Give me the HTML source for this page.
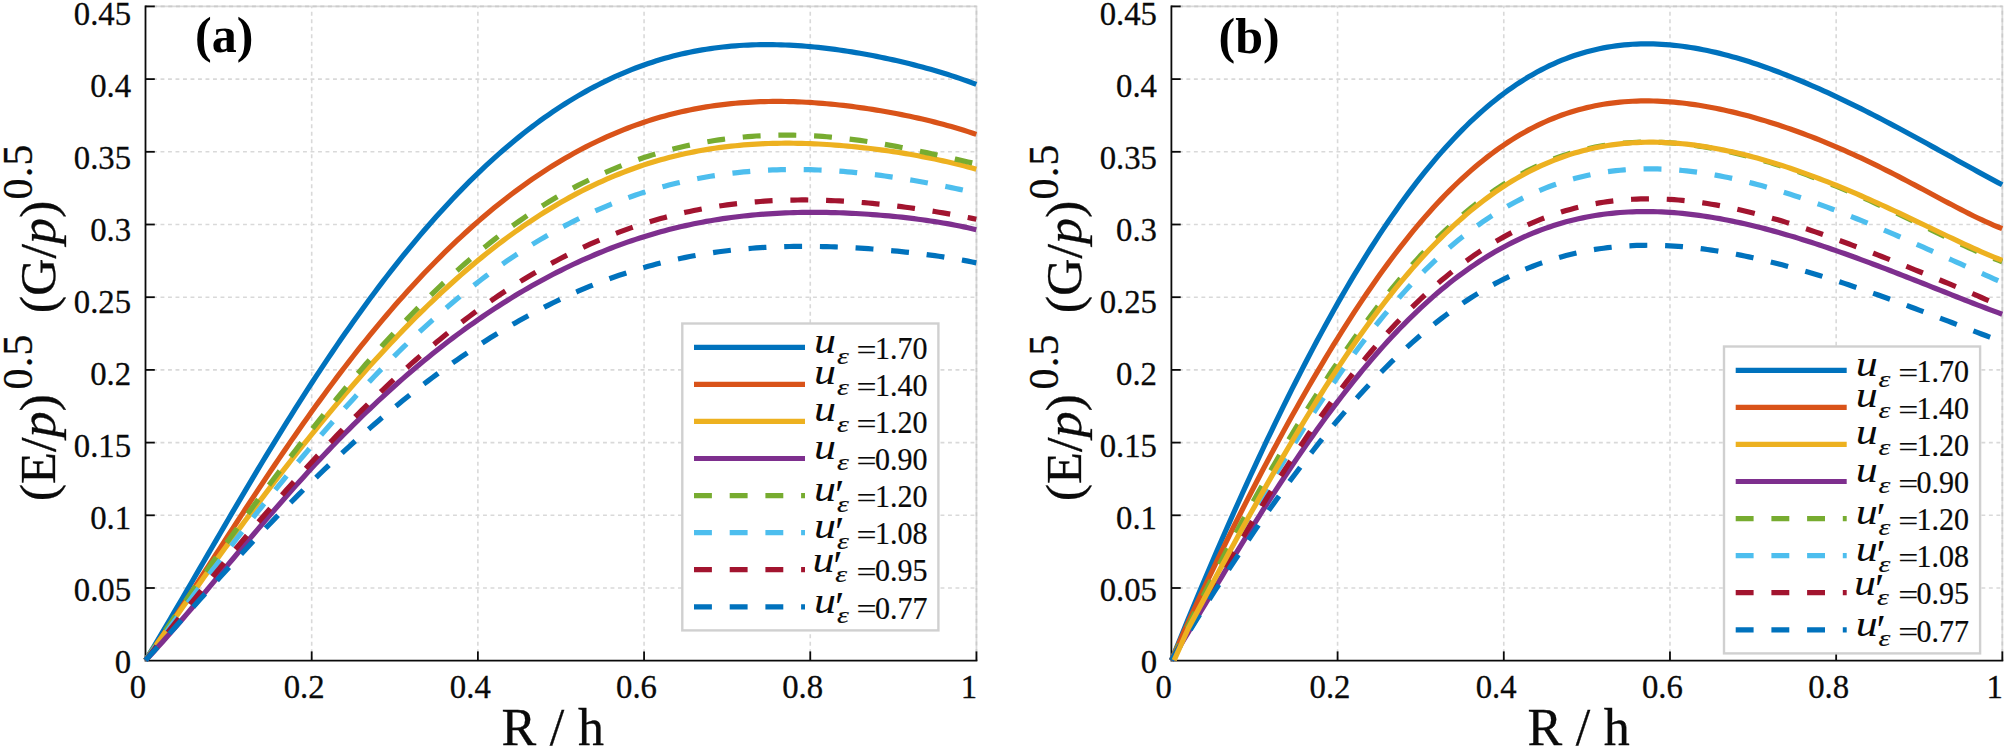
<!DOCTYPE html>
<html lang="en"><head><meta charset="utf-8"><title>Figure</title>
<style>html,body{margin:0;padding:0;background:#fff}svg{display:block}text{font-family:"Liberation Serif",serif;fill:#0a0a0a;stroke:#0a0a0a;stroke-width:0.3px}.tk{font-size:34.2px}.lg{font-size:31.6px;stroke-width:0.2px}.ax{font-size:52px}.sup{font-size:42px}.pl{font-size:50px;font-weight:bold;fill:#000;stroke-width:0}.it{font-style:italic}</style></head><body>
<svg width="2007" height="750" viewBox="0 0 2007 750">
<rect width="2007" height="750" fill="#fff"/>
<g id="panel-a">
<g stroke="#d9d9d9" stroke-width="1.6" stroke-dasharray="3.9 3.6" fill="none">
<path d="M311.69 660.70V6.40"/>
<path d="M477.88 660.70V6.40"/>
<path d="M644.07 660.70V6.40"/>
<path d="M810.26 660.70V6.40"/>
<path d="M145.50 588.00H976.45"/>
<path d="M145.50 515.30H976.45"/>
<path d="M145.50 442.60H976.45"/>
<path d="M145.50 369.90H976.45"/>
<path d="M145.50 297.20H976.45"/>
<path d="M145.50 224.50H976.45"/>
<path d="M145.50 151.80H976.45"/>
<path d="M145.50 79.10H976.45"/>
</g>
<path d="M145.50 6.40H976.45V660.70" stroke="#dadada" stroke-width="1.8" fill="none"/>
<path d="M145.50 6.40H976.45M976.45 660.70V6.40" stroke="#cbcbcb" stroke-width="1.6" stroke-dasharray="4 3.6" fill="none"/>
<g stroke="#0a0a0a" stroke-width="1.8" fill="none">
<path d="M145.50 5.50V660.70H977.35"/>
<path d="M311.69 660.70v-9.3"/>
<path d="M477.88 660.70v-9.3"/>
<path d="M644.07 660.70v-9.3"/>
<path d="M810.26 660.70v-9.3"/>
<path d="M976.45 660.70v-9.3"/>
<path d="M145.50 588.00h9.3"/>
<path d="M145.50 515.30h9.3"/>
<path d="M145.50 442.60h9.3"/>
<path d="M145.50 369.90h9.3"/>
<path d="M145.50 297.20h9.3"/>
<path d="M145.50 224.50h9.3"/>
<path d="M145.50 151.80h9.3"/>
<path d="M145.50 79.10h9.3"/>
<path d="M145.50 6.40h9.3"/>
</g>
<g fill="none" stroke-width="5.2" stroke-linejoin="round">
<path d="M145.60 660.25 L149.75 653.39 L153.91 646.49 L158.06 639.55 L162.21 632.56 L166.37 625.54 L170.52 618.50 L174.67 611.42 L178.83 604.33 L182.98 597.22 L187.13 590.09 L191.29 582.95 L195.44 575.81 L199.60 568.66 L203.75 561.51 L207.90 554.36 L212.06 547.22 L216.21 540.08 L220.36 532.96 L224.52 525.84 L228.67 518.75 L232.82 511.67 L236.98 504.61 L241.13 497.57 L245.28 490.56 L249.44 483.57 L253.59 476.61 L257.74 469.68 L261.90 462.78 L266.05 455.92 L270.20 449.09 L274.36 442.30 L278.51 435.54 L282.67 428.82 L286.82 422.15 L290.97 415.52 L295.13 408.93 L299.28 402.38 L303.43 395.88 L307.59 389.42 L311.74 383.02 L315.89 376.66 L320.05 370.35 L324.20 364.09 L328.35 357.89 L332.51 351.73 L336.66 345.63 L340.81 339.58 L344.97 333.59 L349.12 327.65 L353.27 321.77 L357.43 315.94 L361.58 310.17 L365.74 304.45 L369.89 298.80 L374.04 293.20 L378.20 287.67 L382.35 282.19 L386.50 276.77 L390.66 271.41 L394.81 266.11 L398.96 260.88 L403.12 255.70 L407.27 250.59 L411.42 245.53 L415.58 240.54 L419.73 235.62 L423.88 230.75 L428.04 225.95 L432.19 221.21 L436.35 216.54 L440.50 211.93 L444.65 207.38 L448.81 202.90 L452.96 198.48 L457.11 194.13 L461.27 189.84 L465.42 185.61 L469.57 181.45 L473.73 177.36 L477.88 173.33 L482.03 169.36 L486.19 165.46 L490.34 161.63 L494.49 157.86 L498.65 154.15 L502.80 150.52 L506.95 146.94 L511.11 143.43 L515.26 139.99 L519.42 136.61 L523.57 133.30 L527.72 130.05 L531.88 126.87 L536.03 123.75 L540.18 120.70 L544.34 117.71 L548.49 114.79 L552.64 111.93 L556.80 109.14 L560.95 106.41 L565.10 103.74 L569.26 101.14 L573.41 98.60 L577.56 96.13 L581.72 93.72 L585.87 91.37 L590.02 89.09 L594.18 86.86 L598.33 84.70 L602.49 82.61 L606.64 80.57 L610.79 78.60 L614.95 76.68 L619.10 74.83 L623.25 73.04 L627.41 71.31 L631.56 69.64 L635.71 68.02 L639.87 66.47 L644.02 64.97 L648.17 63.54 L652.33 62.16 L656.48 60.83 L660.63 59.57 L664.79 58.36 L668.94 57.20 L673.09 56.10 L677.25 55.06 L681.40 54.07 L685.56 53.13 L689.71 52.25 L693.86 51.42 L698.02 50.63 L702.17 49.91 L706.32 49.23 L710.48 48.60 L714.63 48.02 L718.78 47.48 L722.94 47.00 L727.09 46.56 L731.24 46.17 L735.40 45.83 L739.55 45.53 L743.70 45.27 L747.86 45.06 L752.01 44.89 L756.16 44.77 L760.32 44.68 L764.47 44.64 L768.63 44.63 L772.78 44.67 L776.93 44.74 L781.09 44.85 L785.24 45.00 L789.39 45.18 L793.55 45.40 L797.70 45.66 L801.85 45.95 L806.01 46.27 L810.16 46.63 L814.31 47.02 L818.47 47.44 L822.62 47.89 L826.77 48.38 L830.93 48.89 L835.08 49.43 L839.23 50.00 L843.39 50.60 L847.54 51.23 L851.70 51.89 L855.85 52.57 L860.00 53.28 L864.16 54.01 L868.31 54.78 L872.46 55.56 L876.62 56.38 L880.77 57.22 L884.92 58.09 L889.08 58.98 L893.23 59.89 L897.38 60.84 L901.54 61.81 L905.69 62.80 L909.84 63.83 L914.00 64.87 L918.15 65.95 L922.30 67.06 L926.46 68.19 L930.61 69.35 L934.77 70.55 L938.92 71.77 L943.07 73.03 L947.23 74.32 L951.38 75.64 L955.53 77.00 L959.69 78.40 L963.84 79.84 L967.99 81.31 L972.15 82.83 L976.30 84.40" stroke="#0072BD"/>
<path d="M145.60 660.25 L149.75 654.35 L153.91 648.39 L158.06 642.36 L162.21 636.27 L166.37 630.13 L170.52 623.94 L174.67 617.71 L178.83 611.44 L182.98 605.14 L187.13 598.81 L191.29 592.45 L195.44 586.07 L199.60 579.68 L203.75 573.28 L207.90 566.87 L212.06 560.45 L216.21 554.03 L220.36 547.61 L224.52 541.19 L228.67 534.78 L232.82 528.38 L236.98 522.00 L241.13 515.63 L245.28 509.28 L249.44 502.94 L253.59 496.63 L257.74 490.35 L261.90 484.08 L266.05 477.85 L270.20 471.65 L274.36 465.48 L278.51 459.34 L282.67 453.24 L286.82 447.17 L290.97 441.14 L295.13 435.16 L299.28 429.21 L303.43 423.30 L307.59 417.43 L311.74 411.61 L315.89 405.84 L320.05 400.11 L324.20 394.42 L328.35 388.78 L332.51 383.20 L336.66 377.66 L340.81 372.17 L344.97 366.73 L349.12 361.34 L353.27 356.00 L357.43 350.72 L361.58 345.48 L365.74 340.31 L369.89 335.18 L374.04 330.11 L378.20 325.09 L382.35 320.13 L386.50 315.22 L390.66 310.37 L394.81 305.57 L398.96 300.83 L403.12 296.15 L407.27 291.52 L411.42 286.95 L415.58 282.43 L419.73 277.98 L423.88 273.58 L428.04 269.23 L432.19 264.95 L436.35 260.72 L440.50 256.55 L444.65 252.43 L448.81 248.38 L452.96 244.38 L457.11 240.44 L461.27 236.56 L465.42 232.74 L469.57 228.97 L473.73 225.26 L477.88 221.61 L482.03 218.02 L486.19 214.49 L490.34 211.01 L494.49 207.59 L498.65 204.23 L502.80 200.93 L506.95 197.69 L511.11 194.50 L515.26 191.37 L519.42 188.30 L523.57 185.29 L527.72 182.33 L531.88 179.43 L536.03 176.59 L540.18 173.80 L544.34 171.08 L548.49 168.41 L552.64 165.79 L556.80 163.23 L560.95 160.73 L565.10 158.29 L569.26 155.90 L573.41 153.57 L577.56 151.29 L581.72 149.07 L585.87 146.90 L590.02 144.79 L594.18 142.74 L598.33 140.74 L602.49 138.79 L606.64 136.90 L610.79 135.06 L614.95 133.28 L619.10 131.54 L623.25 129.87 L627.41 128.24 L631.56 126.67 L635.71 125.15 L639.87 123.68 L644.02 122.26 L648.17 120.90 L652.33 119.58 L656.48 118.32 L660.63 117.10 L664.79 115.94 L668.94 114.82 L673.09 113.75 L677.25 112.73 L681.40 111.76 L685.56 110.84 L689.71 109.96 L693.86 109.13 L698.02 108.34 L702.17 107.60 L706.32 106.91 L710.48 106.26 L714.63 105.65 L718.78 105.09 L722.94 104.57 L727.09 104.09 L731.24 103.65 L735.40 103.26 L739.55 102.90 L743.70 102.59 L747.86 102.31 L752.01 102.08 L756.16 101.88 L760.32 101.71 L764.47 101.59 L768.63 101.50 L772.78 101.45 L776.93 101.43 L781.09 101.45 L785.24 101.50 L789.39 101.58 L793.55 101.69 L797.70 101.84 L801.85 102.02 L806.01 102.23 L810.16 102.47 L814.31 102.74 L818.47 103.04 L822.62 103.37 L826.77 103.73 L830.93 104.12 L835.08 104.53 L839.23 104.97 L843.39 105.43 L847.54 105.93 L851.70 106.44 L855.85 106.99 L860.00 107.56 L864.16 108.15 L868.31 108.77 L872.46 109.41 L876.62 110.08 L880.77 110.78 L884.92 111.49 L889.08 112.24 L893.23 113.00 L897.38 113.80 L901.54 114.61 L905.69 115.46 L909.84 116.32 L914.00 117.22 L918.15 118.14 L922.30 119.09 L926.46 120.07 L930.61 121.07 L934.77 122.11 L938.92 123.18 L943.07 124.28 L947.23 125.41 L951.38 126.58 L955.53 127.78 L959.69 129.02 L963.84 130.30 L967.99 131.62 L972.15 132.98 L976.30 134.39" stroke="#D95319"/>
<path d="M145.60 660.25 L149.75 654.27 L153.91 648.31 L158.06 642.35 L162.21 636.40 L166.37 630.46 L170.52 624.54 L174.67 618.62 L178.83 612.72 L182.98 606.83 L187.13 600.95 L191.29 595.09 L195.44 589.25 L199.60 583.42 L203.75 577.61 L207.90 571.81 L212.06 566.03 L216.21 560.27 L220.36 554.53 L224.52 548.81 L228.67 543.11 L232.82 537.44 L236.98 531.78 L241.13 526.15 L245.28 520.54 L249.44 514.95 L253.59 509.38 L257.74 503.85 L261.90 498.33 L266.05 492.85 L270.20 487.39 L274.36 481.96 L278.51 476.55 L282.67 471.17 L286.82 465.83 L290.97 460.51 L295.13 455.22 L299.28 449.97 L303.43 444.74 L307.59 439.55 L311.74 434.39 L315.89 429.26 L320.05 424.17 L324.20 419.11 L328.35 414.08 L332.51 409.09 L336.66 404.14 L340.81 399.22 L344.97 394.34 L349.12 389.49 L353.27 384.69 L357.43 379.92 L361.58 375.19 L365.74 370.51 L369.89 365.86 L374.04 361.25 L378.20 356.68 L382.35 352.16 L386.50 347.68 L390.66 343.23 L394.81 338.84 L398.96 334.48 L403.12 330.17 L407.27 325.91 L411.42 321.68 L415.58 317.51 L419.73 313.38 L423.88 309.29 L428.04 305.25 L432.19 301.26 L436.35 297.32 L440.50 293.42 L444.65 289.57 L448.81 285.77 L452.96 282.01 L457.11 278.31 L461.27 274.66 L465.42 271.05 L469.57 267.50 L473.73 263.99 L477.88 260.53 L482.03 257.13 L486.19 253.78 L490.34 250.47 L494.49 247.22 L498.65 244.02 L502.80 240.87 L506.95 237.78 L511.11 234.73 L515.26 231.74 L519.42 228.80 L523.57 225.91 L527.72 223.08 L531.88 220.29 L536.03 217.56 L540.18 214.89 L544.34 212.26 L548.49 209.69 L552.64 207.17 L556.80 204.70 L560.95 202.29 L565.10 199.93 L569.26 197.62 L573.41 195.36 L577.56 193.16 L581.72 191.01 L585.87 188.91 L590.02 186.86 L594.18 184.87 L598.33 182.92 L602.49 181.03 L606.64 179.19 L610.79 177.40 L614.95 175.66 L619.10 173.97 L623.25 172.34 L627.41 170.75 L631.56 169.21 L635.71 167.72 L639.87 166.28 L644.02 164.89 L648.17 163.55 L652.33 162.25 L656.48 161.01 L660.63 159.81 L664.79 158.65 L668.94 157.55 L673.09 156.48 L677.25 155.47 L681.40 154.50 L685.56 153.57 L689.71 152.69 L693.86 151.85 L698.02 151.05 L702.17 150.30 L706.32 149.58 L710.48 148.91 L714.63 148.28 L718.78 147.69 L722.94 147.14 L727.09 146.63 L731.24 146.16 L735.40 145.72 L739.55 145.32 L743.70 144.96 L747.86 144.63 L752.01 144.34 L756.16 144.09 L760.32 143.87 L764.47 143.68 L768.63 143.52 L772.78 143.40 L776.93 143.31 L781.09 143.25 L785.24 143.22 L789.39 143.22 L793.55 143.25 L797.70 143.31 L801.85 143.40 L806.01 143.51 L810.16 143.66 L814.31 143.83 L818.47 144.02 L822.62 144.24 L826.77 144.49 L830.93 144.76 L835.08 145.06 L839.23 145.38 L843.39 145.73 L847.54 146.09 L851.70 146.48 L855.85 146.90 L860.00 147.34 L864.16 147.80 L868.31 148.28 L872.46 148.78 L876.62 149.31 L880.77 149.86 L884.92 150.43 L889.08 151.02 L893.23 151.63 L897.38 152.27 L901.54 152.93 L905.69 153.61 L909.84 154.31 L914.00 155.04 L918.15 155.80 L922.30 156.57 L926.46 157.37 L930.61 158.20 L934.77 159.05 L938.92 159.93 L943.07 160.84 L947.23 161.78 L951.38 162.74 L955.53 163.74 L959.69 164.77 L963.84 165.83 L967.99 166.92 L972.15 168.06 L976.30 169.23" stroke="#EDB120"/>
<path d="M145.60 660.25 L149.75 655.86 L153.91 651.39 L158.06 646.86 L162.21 642.25 L166.37 637.59 L170.52 632.88 L174.67 628.12 L178.83 623.32 L182.98 618.48 L187.13 613.61 L191.29 608.71 L195.44 603.78 L199.60 598.84 L203.75 593.88 L207.90 588.90 L212.06 583.92 L216.21 578.93 L220.36 573.94 L224.52 568.95 L228.67 563.96 L232.82 558.98 L236.98 554.00 L241.13 549.04 L245.28 544.09 L249.44 539.16 L253.59 534.24 L257.74 529.34 L261.90 524.46 L266.05 519.61 L270.20 514.77 L274.36 509.97 L278.51 505.19 L282.67 500.44 L286.82 495.72 L290.97 491.03 L295.13 486.37 L299.28 481.74 L303.43 477.15 L307.59 472.59 L311.74 468.07 L315.89 463.58 L320.05 459.13 L324.20 454.72 L328.35 450.34 L332.51 446.01 L336.66 441.71 L340.81 437.45 L344.97 433.23 L349.12 429.05 L353.27 424.90 L357.43 420.80 L361.58 416.74 L365.74 412.73 L369.89 408.75 L374.04 404.81 L378.20 400.91 L382.35 397.06 L386.50 393.25 L390.66 389.48 L394.81 385.75 L398.96 382.06 L403.12 378.41 L407.27 374.80 L411.42 371.24 L415.58 367.72 L419.73 364.24 L423.88 360.80 L428.04 357.40 L432.19 354.05 L436.35 350.73 L440.50 347.46 L444.65 344.23 L448.81 341.04 L452.96 337.89 L457.11 334.78 L461.27 331.72 L465.42 328.69 L469.57 325.71 L473.73 322.76 L477.88 319.86 L482.03 317.00 L486.19 314.18 L490.34 311.40 L494.49 308.66 L498.65 305.96 L502.80 303.30 L506.95 300.68 L511.11 298.11 L515.26 295.57 L519.42 293.07 L523.57 290.62 L527.72 288.20 L531.88 285.83 L536.03 283.49 L540.18 281.20 L544.34 278.94 L548.49 276.73 L552.64 274.55 L556.80 272.42 L560.95 270.32 L565.10 268.27 L569.26 266.25 L573.41 264.27 L577.56 262.34 L581.72 260.44 L585.87 258.59 L590.02 256.77 L594.18 254.99 L598.33 253.25 L602.49 251.55 L606.64 249.89 L610.79 248.27 L614.95 246.69 L619.10 245.14 L623.25 243.64 L627.41 242.17 L631.56 240.75 L635.71 239.36 L639.87 238.01 L644.02 236.69 L648.17 235.42 L652.33 234.18 L656.48 232.98 L660.63 231.82 L664.79 230.69 L668.94 229.60 L673.09 228.55 L677.25 227.54 L681.40 226.56 L685.56 225.61 L689.71 224.71 L693.86 223.83 L698.02 223.00 L702.17 222.19 L706.32 221.43 L710.48 220.69 L714.63 219.99 L718.78 219.33 L722.94 218.69 L727.09 218.09 L731.24 217.52 L735.40 216.99 L739.55 216.48 L743.70 216.01 L747.86 215.57 L752.01 215.16 L756.16 214.77 L760.32 214.42 L764.47 214.10 L768.63 213.80 L772.78 213.54 L776.93 213.30 L781.09 213.09 L785.24 212.91 L789.39 212.75 L793.55 212.62 L797.70 212.51 L801.85 212.43 L806.01 212.37 L810.16 212.34 L814.31 212.34 L818.47 212.35 L822.62 212.39 L826.77 212.45 L830.93 212.54 L835.08 212.65 L839.23 212.77 L843.39 212.93 L847.54 213.10 L851.70 213.29 L855.85 213.50 L860.00 213.74 L864.16 213.99 L868.31 214.27 L872.46 214.56 L876.62 214.88 L880.77 215.22 L884.92 215.58 L889.08 215.95 L893.23 216.35 L897.38 216.77 L901.54 217.21 L905.69 217.68 L909.84 218.16 L914.00 218.67 L918.15 219.21 L922.30 219.76 L926.46 220.34 L930.61 220.95 L934.77 221.58 L938.92 222.25 L943.07 222.94 L947.23 223.66 L951.38 224.41 L955.53 225.20 L959.69 226.02 L963.84 226.88 L967.99 227.78 L972.15 228.71 L976.30 229.69" stroke="#7E2F8E"/>
<path d="M145.60 660.25 L149.75 653.92 L153.91 647.63 L158.06 641.38 L162.21 635.17 L166.37 629.00 L170.52 622.86 L174.67 616.76 L178.83 610.69 L182.98 604.65 L187.13 598.63 L191.29 592.65 L195.44 586.69 L199.60 580.76 L203.75 574.86 L207.90 568.97 L212.06 563.11 L216.21 557.28 L220.36 551.47 L224.52 545.68 L228.67 539.91 L232.82 534.16 L236.98 528.44 L241.13 522.74 L245.28 517.06 L249.44 511.41 L253.59 505.77 L257.74 500.16 L261.90 494.58 L266.05 489.02 L270.20 483.48 L274.36 477.96 L278.51 472.48 L282.67 467.02 L286.82 461.58 L290.97 456.17 L295.13 450.79 L299.28 445.44 L303.43 440.12 L307.59 434.83 L311.74 429.56 L315.89 424.33 L320.05 419.14 L324.20 413.97 L328.35 408.84 L332.51 403.75 L336.66 398.69 L340.81 393.66 L344.97 388.67 L349.12 383.72 L353.27 378.81 L357.43 373.94 L361.58 369.11 L365.74 364.32 L369.89 359.57 L374.04 354.86 L378.20 350.20 L382.35 345.58 L386.50 341.01 L390.66 336.47 L394.81 331.99 L398.96 327.55 L403.12 323.16 L407.27 318.82 L411.42 314.52 L415.58 310.27 L419.73 306.08 L423.88 301.93 L428.04 297.83 L432.19 293.78 L436.35 289.79 L440.50 285.84 L444.65 281.95 L448.81 278.11 L452.96 274.32 L457.11 270.58 L461.27 266.90 L465.42 263.27 L469.57 259.69 L473.73 256.17 L477.88 252.70 L482.03 249.29 L486.19 245.93 L490.34 242.62 L494.49 239.37 L498.65 236.17 L502.80 233.03 L506.95 229.94 L511.11 226.90 L515.26 223.92 L519.42 221.00 L523.57 218.13 L527.72 215.31 L531.88 212.55 L536.03 209.84 L540.18 207.18 L544.34 204.58 L548.49 202.03 L552.64 199.54 L556.80 197.09 L560.95 194.70 L565.10 192.37 L569.26 190.08 L573.41 187.85 L577.56 185.67 L581.72 183.54 L585.87 181.46 L590.02 179.43 L594.18 177.46 L598.33 175.53 L602.49 173.65 L606.64 171.83 L610.79 170.05 L614.95 168.32 L619.10 166.64 L623.25 165.01 L627.41 163.42 L631.56 161.88 L635.71 160.39 L639.87 158.95 L644.02 157.55 L648.17 156.20 L652.33 154.89 L656.48 153.63 L660.63 152.42 L664.79 151.25 L668.94 150.12 L673.09 149.04 L677.25 148.00 L681.40 147.00 L685.56 146.04 L689.71 145.13 L693.86 144.26 L698.02 143.43 L702.17 142.65 L706.32 141.90 L710.48 141.19 L714.63 140.53 L718.78 139.90 L722.94 139.32 L727.09 138.77 L731.24 138.27 L735.40 137.80 L739.55 137.37 L743.70 136.98 L747.86 136.63 L752.01 136.31 L756.16 136.03 L760.32 135.79 L764.47 135.59 L768.63 135.42 L772.78 135.29 L776.93 135.20 L781.09 135.14 L785.24 135.12 L789.39 135.13 L793.55 135.18 L797.70 135.26 L801.85 135.37 L806.01 135.52 L810.16 135.71 L814.31 135.93 L818.47 136.18 L822.62 136.46 L826.77 136.78 L830.93 137.13 L835.08 137.51 L839.23 137.92 L843.39 138.36 L847.54 138.83 L851.70 139.34 L855.85 139.87 L860.00 140.43 L864.16 141.01 L868.31 141.63 L872.46 142.27 L876.62 142.94 L880.77 143.63 L884.92 144.35 L889.08 145.09 L893.23 145.86 L897.38 146.64 L901.54 147.45 L905.69 148.27 L909.84 149.11 L914.00 149.97 L918.15 150.85 L922.30 151.74 L926.46 152.64 L930.61 153.55 L934.77 154.47 L938.92 155.40 L943.07 156.34 L947.23 157.27 L951.38 158.21 L955.53 159.15 L959.69 160.08 L963.84 161.01 L967.99 161.93 L972.15 162.84 L976.30 163.73" stroke="#77AC30" stroke-dasharray="17.9 17.8"/>
<path d="M145.60 660.25 L149.75 654.53 L153.91 648.83 L158.06 643.15 L162.21 637.48 L166.37 631.83 L170.52 626.19 L174.67 620.56 L178.83 614.96 L182.98 609.36 L187.13 603.79 L191.29 598.23 L195.44 592.68 L199.60 587.16 L203.75 581.65 L207.90 576.15 L212.06 570.68 L216.21 565.22 L220.36 559.78 L224.52 554.36 L228.67 548.96 L232.82 543.58 L236.98 538.22 L241.13 532.89 L245.28 527.57 L249.44 522.27 L253.59 517.00 L257.74 511.75 L261.90 506.53 L266.05 501.33 L270.20 496.15 L274.36 491.00 L278.51 485.88 L282.67 480.78 L286.82 475.72 L290.97 470.68 L295.13 465.66 L299.28 460.68 L303.43 455.73 L307.59 450.81 L311.74 445.92 L315.89 441.06 L320.05 436.24 L324.20 431.44 L328.35 426.68 L332.51 421.96 L336.66 417.27 L340.81 412.62 L344.97 408.00 L349.12 403.42 L353.27 398.88 L357.43 394.37 L361.58 389.91 L365.74 385.48 L369.89 381.09 L374.04 376.74 L378.20 372.43 L382.35 368.17 L386.50 363.94 L390.66 359.76 L394.81 355.62 L398.96 351.52 L403.12 347.46 L407.27 343.45 L411.42 339.48 L415.58 335.56 L419.73 331.68 L423.88 327.84 L428.04 324.05 L432.19 320.31 L436.35 316.61 L440.50 312.96 L444.65 309.35 L448.81 305.80 L452.96 302.28 L457.11 298.82 L461.27 295.40 L465.42 292.03 L469.57 288.71 L473.73 285.44 L477.88 282.21 L482.03 279.03 L486.19 275.90 L490.34 272.82 L494.49 269.78 L498.65 266.80 L502.80 263.86 L506.95 260.97 L511.11 258.13 L515.26 255.34 L519.42 252.60 L523.57 249.91 L527.72 247.26 L531.88 244.66 L536.03 242.11 L540.18 239.61 L544.34 237.16 L548.49 234.75 L552.64 232.40 L556.80 230.09 L560.95 227.83 L565.10 225.61 L569.26 223.45 L573.41 221.33 L577.56 219.25 L581.72 217.23 L585.87 215.25 L590.02 213.32 L594.18 211.43 L598.33 209.59 L602.49 207.80 L606.64 206.05 L610.79 204.34 L614.95 202.69 L619.10 201.07 L623.25 199.50 L627.41 197.98 L631.56 196.50 L635.71 195.06 L639.87 193.66 L644.02 192.31 L648.17 191.00 L652.33 189.74 L656.48 188.51 L660.63 187.33 L664.79 186.19 L668.94 185.09 L673.09 184.03 L677.25 183.01 L681.40 182.03 L685.56 181.09 L689.71 180.20 L693.86 179.33 L698.02 178.51 L702.17 177.73 L706.32 176.99 L710.48 176.28 L714.63 175.61 L718.78 174.98 L722.94 174.38 L727.09 173.82 L731.24 173.30 L735.40 172.81 L739.55 172.35 L743.70 171.94 L747.86 171.55 L752.01 171.20 L756.16 170.89 L760.32 170.60 L764.47 170.36 L768.63 170.14 L772.78 169.96 L776.93 169.80 L781.09 169.68 L785.24 169.60 L789.39 169.54 L793.55 169.51 L797.70 169.52 L801.85 169.55 L806.01 169.61 L810.16 169.71 L814.31 169.83 L818.47 169.98 L822.62 170.16 L826.77 170.36 L830.93 170.60 L835.08 170.86 L839.23 171.15 L843.39 171.46 L847.54 171.80 L851.70 172.17 L855.85 172.56 L860.00 172.98 L864.16 173.42 L868.31 173.88 L872.46 174.37 L876.62 174.89 L880.77 175.42 L884.92 175.98 L889.08 176.56 L893.23 177.16 L897.38 177.79 L901.54 178.43 L905.69 179.10 L909.84 179.79 L914.00 180.49 L918.15 181.22 L922.30 181.96 L926.46 182.72 L930.61 183.50 L934.77 184.29 L938.92 185.11 L943.07 185.93 L947.23 186.78 L951.38 187.64 L955.53 188.51 L959.69 189.39 L963.84 190.29 L967.99 191.20 L972.15 192.12 L976.30 193.05" stroke="#4DBEEE" stroke-dasharray="17.9 17.8"/>
<path d="M145.60 660.25 L149.75 655.00 L153.91 649.76 L158.06 644.52 L162.21 639.29 L166.37 634.07 L170.52 628.86 L174.67 623.66 L178.83 618.47 L182.98 613.30 L187.13 608.13 L191.29 602.98 L195.44 597.84 L199.60 592.72 L203.75 587.61 L207.90 582.52 L212.06 577.44 L216.21 572.38 L220.36 567.34 L224.52 562.31 L228.67 557.31 L232.82 552.32 L236.98 547.36 L241.13 542.41 L245.28 537.49 L249.44 532.59 L253.59 527.71 L257.74 522.85 L261.90 518.02 L266.05 513.21 L270.20 508.43 L274.36 503.67 L278.51 498.94 L282.67 494.23 L286.82 489.55 L290.97 484.89 L295.13 480.27 L299.28 475.67 L303.43 471.10 L307.59 466.56 L311.74 462.05 L315.89 457.56 L320.05 453.11 L324.20 448.69 L328.35 444.30 L332.51 439.95 L336.66 435.62 L340.81 431.33 L344.97 427.07 L349.12 422.84 L353.27 418.64 L357.43 414.48 L361.58 410.36 L365.74 406.27 L369.89 402.21 L374.04 398.19 L378.20 394.21 L382.35 390.26 L386.50 386.35 L390.66 382.47 L394.81 378.63 L398.96 374.83 L403.12 371.07 L407.27 367.35 L411.42 363.66 L415.58 360.01 L419.73 356.40 L423.88 352.83 L428.04 349.30 L432.19 345.81 L436.35 342.36 L440.50 338.95 L444.65 335.58 L448.81 332.25 L452.96 328.96 L457.11 325.71 L461.27 322.51 L465.42 319.34 L469.57 316.22 L473.73 313.13 L477.88 310.09 L482.03 307.09 L486.19 304.14 L490.34 301.22 L494.49 298.35 L498.65 295.52 L502.80 292.74 L506.95 289.99 L511.11 287.29 L515.26 284.63 L519.42 282.02 L523.57 279.45 L527.72 276.92 L531.88 274.43 L536.03 271.99 L540.18 269.59 L544.34 267.23 L548.49 264.92 L552.64 262.65 L556.80 260.42 L560.95 258.24 L565.10 256.10 L569.26 254.00 L573.41 251.95 L577.56 249.94 L581.72 247.97 L585.87 246.05 L590.02 244.16 L594.18 242.32 L598.33 240.53 L602.49 238.77 L606.64 237.06 L610.79 235.39 L614.95 233.76 L619.10 232.18 L623.25 230.63 L627.41 229.13 L631.56 227.67 L635.71 226.25 L639.87 224.87 L644.02 223.53 L648.17 222.23 L652.33 220.97 L656.48 219.75 L660.63 218.58 L664.79 217.44 L668.94 216.34 L673.09 215.28 L677.25 214.26 L681.40 213.28 L685.56 212.33 L689.71 211.42 L693.86 210.55 L698.02 209.72 L702.17 208.93 L706.32 208.17 L710.48 207.45 L714.63 206.76 L718.78 206.11 L722.94 205.49 L727.09 204.91 L731.24 204.37 L735.40 203.85 L739.55 203.37 L743.70 202.93 L747.86 202.52 L752.01 202.14 L756.16 201.79 L760.32 201.47 L764.47 201.19 L768.63 200.93 L772.78 200.71 L776.93 200.52 L781.09 200.35 L785.24 200.22 L789.39 200.11 L793.55 200.04 L797.70 199.99 L801.85 199.96 L806.01 199.97 L810.16 200.00 L814.31 200.06 L818.47 200.14 L822.62 200.25 L826.77 200.39 L830.93 200.55 L835.08 200.73 L839.23 200.94 L843.39 201.17 L847.54 201.43 L851.70 201.70 L855.85 202.00 L860.00 202.33 L864.16 202.67 L868.31 203.03 L872.46 203.42 L876.62 203.82 L880.77 204.25 L884.92 204.70 L889.08 205.16 L893.23 205.65 L897.38 206.16 L901.54 206.68 L905.69 207.22 L909.84 207.78 L914.00 208.36 L918.15 208.96 L922.30 209.58 L926.46 210.21 L930.61 210.86 L934.77 211.53 L938.92 212.22 L943.07 212.93 L947.23 213.65 L951.38 214.39 L955.53 215.14 L959.69 215.92 L963.84 216.71 L967.99 217.52 L972.15 218.35 L976.30 219.20" stroke="#A2142F" stroke-dasharray="17.9 17.8"/>
<path d="M145.60 660.25 L149.75 655.62 L153.91 650.99 L158.06 646.34 L162.21 641.68 L166.37 637.02 L170.52 632.36 L174.67 627.70 L178.83 623.03 L182.98 618.37 L187.13 613.71 L191.29 609.06 L195.44 604.42 L199.60 599.78 L203.75 595.16 L207.90 590.55 L212.06 585.95 L216.21 581.36 L220.36 576.79 L224.52 572.23 L228.67 567.69 L232.82 563.17 L236.98 558.67 L241.13 554.19 L245.28 549.73 L249.44 545.29 L253.59 540.87 L257.74 536.48 L261.90 532.11 L266.05 527.76 L270.20 523.44 L274.36 519.14 L278.51 514.87 L282.67 510.62 L286.82 506.40 L290.97 502.21 L295.13 498.04 L299.28 493.91 L303.43 489.80 L307.59 485.72 L311.74 481.67 L315.89 477.64 L320.05 473.65 L324.20 469.69 L328.35 465.75 L332.51 461.85 L336.66 457.98 L340.81 454.14 L344.97 450.33 L349.12 446.55 L353.27 442.80 L357.43 439.08 L361.58 435.40 L365.74 431.74 L369.89 428.12 L374.04 424.53 L378.20 420.98 L382.35 417.45 L386.50 413.96 L390.66 410.51 L394.81 407.08 L398.96 403.69 L403.12 400.33 L407.27 397.01 L411.42 393.72 L415.58 390.46 L419.73 387.24 L423.88 384.05 L428.04 380.90 L432.19 377.78 L436.35 374.69 L440.50 371.64 L444.65 368.63 L448.81 365.65 L452.96 362.71 L457.11 359.80 L461.27 356.92 L465.42 354.09 L469.57 351.29 L473.73 348.52 L477.88 345.79 L482.03 343.10 L486.19 340.44 L490.34 337.82 L494.49 335.24 L498.65 332.69 L502.80 330.18 L506.95 327.71 L511.11 325.27 L515.26 322.88 L519.42 320.52 L523.57 318.19 L527.72 315.91 L531.88 313.66 L536.03 311.45 L540.18 309.28 L544.34 307.15 L548.49 305.06 L552.64 303.00 L556.80 300.98 L560.95 299.00 L565.10 297.06 L569.26 295.16 L573.41 293.29 L577.56 291.47 L581.72 289.68 L585.87 287.93 L590.02 286.22 L594.18 284.55 L598.33 282.92 L602.49 281.32 L606.64 279.77 L610.79 278.25 L614.95 276.77 L619.10 275.33 L623.25 273.93 L627.41 272.56 L631.56 271.24 L635.71 269.95 L639.87 268.70 L644.02 267.48 L648.17 266.31 L652.33 265.17 L656.48 264.06 L660.63 263.00 L664.79 261.97 L668.94 260.98 L673.09 260.02 L677.25 259.10 L681.40 258.21 L685.56 257.36 L689.71 256.55 L693.86 255.77 L698.02 255.02 L702.17 254.31 L706.32 253.63 L710.48 252.99 L714.63 252.37 L718.78 251.79 L722.94 251.25 L727.09 250.73 L731.24 250.24 L735.40 249.79 L739.55 249.37 L743.70 248.97 L747.86 248.61 L752.01 248.27 L756.16 247.96 L760.32 247.69 L764.47 247.43 L768.63 247.21 L772.78 247.01 L776.93 246.84 L781.09 246.69 L785.24 246.57 L789.39 246.48 L793.55 246.40 L797.70 246.35 L801.85 246.33 L806.01 246.33 L810.16 246.34 L814.31 246.39 L818.47 246.45 L822.62 246.53 L826.77 246.63 L830.93 246.76 L835.08 246.90 L839.23 247.06 L843.39 247.24 L847.54 247.44 L851.70 247.66 L855.85 247.90 L860.00 248.15 L864.16 248.42 L868.31 248.71 L872.46 249.02 L876.62 249.34 L880.77 249.68 L884.92 250.04 L889.08 250.41 L893.23 250.80 L897.38 251.21 L901.54 251.63 L905.69 252.07 L909.84 252.53 L914.00 253.01 L918.15 253.51 L922.30 254.02 L926.46 254.56 L930.61 255.12 L934.77 255.69 L938.92 256.29 L943.07 256.91 L947.23 257.56 L951.38 258.23 L955.53 258.92 L959.69 259.64 L963.84 260.39 L967.99 261.17 L972.15 261.99 L976.30 262.83" stroke="#0072BD" stroke-dasharray="17.9 17.8"/>
</g>
<g class="tk" text-anchor="end">
<text transform="translate(131.1 673.3) scale(0.958 1)">0</text>
<text transform="translate(131.1 601.2) scale(0.958 1)">0.05</text>
<text transform="translate(131.1 529.2) scale(0.958 1)">0.1</text>
<text transform="translate(131.1 457.1) scale(0.958 1)">0.15</text>
<text transform="translate(131.1 385.1) scale(0.958 1)">0.2</text>
<text transform="translate(131.1 313.0) scale(0.958 1)">0.25</text>
<text transform="translate(131.1 240.9) scale(0.958 1)">0.3</text>
<text transform="translate(131.1 168.9) scale(0.958 1)">0.35</text>
<text transform="translate(131.1 96.8) scale(0.958 1)">0.4</text>
<text transform="translate(131.1 24.8) scale(0.958 1)">0.45</text>
</g>
<g class="tk" text-anchor="middle">
<text transform="translate(137.9 698.2) scale(0.958 1)">0</text>
<text transform="translate(304.1 698.2) scale(0.958 1)">0.2</text>
<text transform="translate(470.3 698.2) scale(0.958 1)">0.4</text>
<text transform="translate(636.5 698.2) scale(0.958 1)">0.6</text>
<text transform="translate(802.7 698.2) scale(0.958 1)">0.8</text>
<text transform="translate(968.9 698.2) scale(0.958 1)">1</text>
</g>
<text class="ax" text-anchor="middle" letter-spacing="0.3" x="552.9" y="745.0">R / h</text>
<g transform="translate(54.9 502.5) rotate(-90)">
<text class="ax" style="font-size:50.8px" transform="translate(1.2 0) scale(1.028 1)">(E/<tspan class="it">p</tspan>)</text>
<text class="sup" letter-spacing="1.3" x="113" y="-23">0.5</text>
<text class="ax" style="font-size:50.8px" transform="translate(189.2 0) scale(1.024 1)">(G/<tspan class="it">p</tspan>)</text>
<text class="sup" letter-spacing="1.3" x="303" y="-23">0.5</text>
</g>
</g>
<g id="panel-b">
<g stroke="#d9d9d9" stroke-width="1.6" stroke-dasharray="3.9 3.6" fill="none">
<path d="M1337.59 660.70V6.40"/>
<path d="M1503.78 660.70V6.40"/>
<path d="M1669.97 660.70V6.40"/>
<path d="M1836.16 660.70V6.40"/>
<path d="M1171.40 588.00H2002.35"/>
<path d="M1171.40 515.30H2002.35"/>
<path d="M1171.40 442.60H2002.35"/>
<path d="M1171.40 369.90H2002.35"/>
<path d="M1171.40 297.20H2002.35"/>
<path d="M1171.40 224.50H2002.35"/>
<path d="M1171.40 151.80H2002.35"/>
<path d="M1171.40 79.10H2002.35"/>
</g>
<path d="M1171.40 6.40H2002.35V660.70" stroke="#dadada" stroke-width="1.8" fill="none"/>
<path d="M1171.40 6.40H2002.35M2002.35 660.70V6.40" stroke="#cbcbcb" stroke-width="1.6" stroke-dasharray="4 3.6" fill="none"/>
<g stroke="#0a0a0a" stroke-width="1.8" fill="none">
<path d="M1171.40 5.50V660.70H2003.25"/>
<path d="M1337.59 660.70v-9.3"/>
<path d="M1503.78 660.70v-9.3"/>
<path d="M1669.97 660.70v-9.3"/>
<path d="M1836.16 660.70v-9.3"/>
<path d="M2002.35 660.70v-9.3"/>
<path d="M1171.40 588.00h9.3"/>
<path d="M1171.40 515.30h9.3"/>
<path d="M1171.40 442.60h9.3"/>
<path d="M1171.40 369.90h9.3"/>
<path d="M1171.40 297.20h9.3"/>
<path d="M1171.40 224.50h9.3"/>
<path d="M1171.40 151.80h9.3"/>
<path d="M1171.40 79.10h9.3"/>
<path d="M1171.40 6.40h9.3"/>
</g>
<g fill="none" stroke-width="5.2" stroke-linejoin="round">
<path d="M1171.50 660.25 L1175.65 649.89 L1179.81 639.61 L1183.96 629.40 L1188.11 619.26 L1192.27 609.20 L1196.42 599.21 L1200.57 589.30 L1204.73 579.45 L1208.88 569.68 L1213.04 559.97 L1217.19 550.34 L1221.34 540.77 L1225.50 531.28 L1229.65 521.85 L1233.80 512.50 L1237.96 503.21 L1242.11 494.00 L1246.26 484.86 L1250.42 475.78 L1254.57 466.79 L1258.72 457.86 L1262.88 449.01 L1267.03 440.23 L1271.18 431.53 L1275.34 422.91 L1279.49 414.36 L1283.64 405.89 L1287.80 397.50 L1291.95 389.19 L1296.11 380.97 L1300.26 372.82 L1304.41 364.76 L1308.57 356.78 L1312.72 348.89 L1316.87 341.09 L1321.03 333.37 L1325.18 325.74 L1329.33 318.20 L1333.49 310.76 L1337.64 303.40 L1341.79 296.14 L1345.95 288.97 L1350.10 281.90 L1354.25 274.93 L1358.41 268.05 L1362.56 261.27 L1366.71 254.59 L1370.87 248.01 L1375.02 241.53 L1379.17 235.15 L1383.33 228.88 L1387.48 222.70 L1391.64 216.63 L1395.79 210.67 L1399.94 204.81 L1404.10 199.06 L1408.25 193.41 L1412.40 187.87 L1416.56 182.44 L1420.71 177.12 L1424.86 171.90 L1429.02 166.79 L1433.17 161.79 L1437.32 156.90 L1441.48 152.12 L1445.63 147.45 L1449.78 142.89 L1453.94 138.44 L1458.09 134.10 L1462.25 129.86 L1466.40 125.74 L1470.55 121.72 L1474.71 117.82 L1478.86 114.02 L1483.01 110.33 L1487.17 106.75 L1491.32 103.28 L1495.47 99.92 L1499.63 96.66 L1503.78 93.51 L1507.93 90.46 L1512.09 87.52 L1516.24 84.69 L1520.39 81.96 L1524.55 79.33 L1528.70 76.81 L1532.85 74.39 L1537.01 72.06 L1541.16 69.84 L1545.32 67.72 L1549.47 65.70 L1553.62 63.77 L1557.78 61.94 L1561.93 60.21 L1566.08 58.57 L1570.24 57.03 L1574.39 55.57 L1578.54 54.21 L1582.70 52.94 L1586.85 51.76 L1591.00 50.66 L1595.16 49.66 L1599.31 48.73 L1603.46 47.89 L1607.62 47.14 L1611.77 46.47 L1615.92 45.87 L1620.08 45.36 L1624.23 44.92 L1628.38 44.56 L1632.54 44.28 L1636.69 44.07 L1640.85 43.93 L1645.00 43.87 L1649.15 43.87 L1653.31 43.94 L1657.46 44.08 L1661.61 44.29 L1665.77 44.56 L1669.92 44.89 L1674.07 45.29 L1678.23 45.75 L1682.38 46.26 L1686.53 46.84 L1690.69 47.47 L1694.84 48.16 L1698.99 48.90 L1703.15 49.69 L1707.30 50.54 L1711.45 51.44 L1715.61 52.38 L1719.76 53.38 L1723.92 54.42 L1728.07 55.51 L1732.22 56.64 L1736.38 57.82 L1740.53 59.04 L1744.68 60.30 L1748.84 61.60 L1752.99 62.94 L1757.14 64.32 L1761.30 65.73 L1765.45 67.19 L1769.60 68.67 L1773.76 70.20 L1777.91 71.75 L1782.06 73.34 L1786.22 74.96 L1790.37 76.61 L1794.53 78.30 L1798.68 80.01 L1802.83 81.75 L1806.99 83.51 L1811.14 85.31 L1815.29 87.13 L1819.45 88.98 L1823.60 90.85 L1827.75 92.74 L1831.91 94.66 L1836.06 96.60 L1840.21 98.57 L1844.37 100.55 L1848.52 102.56 L1852.67 104.59 L1856.83 106.63 L1860.98 108.70 L1865.13 110.78 L1869.29 112.89 L1873.44 115.00 L1877.60 117.14 L1881.75 119.29 L1885.90 121.46 L1890.06 123.64 L1894.21 125.83 L1898.36 128.04 L1902.52 130.26 L1906.67 132.50 L1910.82 134.74 L1914.98 136.99 L1919.13 139.26 L1923.28 141.53 L1927.44 143.81 L1931.59 146.10 L1935.74 148.39 L1939.90 150.68 L1944.05 152.99 L1948.20 155.29 L1952.36 157.59 L1956.51 159.90 L1960.66 162.20 L1964.82 164.50 L1968.97 166.79 L1973.13 169.08 L1977.28 171.36 L1981.43 173.64 L1985.59 175.89 L1989.74 178.14 L1993.89 180.37 L1998.05 182.58 L2002.20 184.77" stroke="#0072BD"/>
<path d="M1171.50 660.25 L1175.65 650.66 L1179.81 641.20 L1183.96 631.84 L1188.11 622.59 L1192.27 613.44 L1196.42 604.38 L1200.57 595.42 L1204.73 586.54 L1208.88 577.74 L1213.04 569.02 L1217.19 560.38 L1221.34 551.82 L1225.50 543.32 L1229.65 534.89 L1233.80 526.53 L1237.96 518.24 L1242.11 510.01 L1246.26 501.85 L1250.42 493.74 L1254.57 485.70 L1258.72 477.72 L1262.88 469.80 L1267.03 461.94 L1271.18 454.15 L1275.34 446.41 L1279.49 438.74 L1283.64 431.13 L1287.80 423.58 L1291.95 416.10 L1296.11 408.68 L1300.26 401.32 L1304.41 394.03 L1308.57 386.81 L1312.72 379.66 L1316.87 372.58 L1321.03 365.57 L1325.18 358.63 L1329.33 351.76 L1333.49 344.97 L1337.64 338.26 L1341.79 331.62 L1345.95 325.06 L1350.10 318.58 L1354.25 312.19 L1358.41 305.88 L1362.56 299.65 L1366.71 293.50 L1370.87 287.45 L1375.02 281.48 L1379.17 275.60 L1383.33 269.81 L1387.48 264.12 L1391.64 258.52 L1395.79 253.01 L1399.94 247.60 L1404.10 242.28 L1408.25 237.06 L1412.40 231.94 L1416.56 226.91 L1420.71 221.99 L1424.86 217.17 L1429.02 212.44 L1433.17 207.82 L1437.32 203.30 L1441.48 198.89 L1445.63 194.57 L1449.78 190.36 L1453.94 186.26 L1458.09 182.25 L1462.25 178.35 L1466.40 174.56 L1470.55 170.86 L1474.71 167.27 L1478.86 163.79 L1483.01 160.41 L1487.17 157.13 L1491.32 153.95 L1495.47 150.88 L1499.63 147.91 L1503.78 145.04 L1507.93 142.27 L1512.09 139.60 L1516.24 137.03 L1520.39 134.55 L1524.55 132.18 L1528.70 129.90 L1532.85 127.72 L1537.01 125.64 L1541.16 123.65 L1545.32 121.75 L1549.47 119.94 L1553.62 118.23 L1557.78 116.60 L1561.93 115.06 L1566.08 113.61 L1570.24 112.25 L1574.39 110.97 L1578.54 109.78 L1582.70 108.67 L1586.85 107.63 L1591.00 106.68 L1595.16 105.81 L1599.31 105.01 L1603.46 104.29 L1607.62 103.64 L1611.77 103.07 L1615.92 102.56 L1620.08 102.13 L1624.23 101.76 L1628.38 101.47 L1632.54 101.23 L1636.69 101.06 L1640.85 100.96 L1645.00 100.91 L1649.15 100.92 L1653.31 101.00 L1657.46 101.13 L1661.61 101.31 L1665.77 101.55 L1669.92 101.85 L1674.07 102.19 L1678.23 102.59 L1682.38 103.04 L1686.53 103.53 L1690.69 104.08 L1694.84 104.67 L1698.99 105.30 L1703.15 105.98 L1707.30 106.70 L1711.45 107.46 L1715.61 108.27 L1719.76 109.11 L1723.92 110.00 L1728.07 110.92 L1732.22 111.89 L1736.38 112.89 L1740.53 113.92 L1744.68 115.00 L1748.84 116.10 L1752.99 117.25 L1757.14 118.42 L1761.30 119.63 L1765.45 120.88 L1769.60 122.16 L1773.76 123.47 L1777.91 124.81 L1782.06 126.18 L1786.22 127.59 L1790.37 129.02 L1794.53 130.49 L1798.68 131.99 L1802.83 133.51 L1806.99 135.07 L1811.14 136.66 L1815.29 138.28 L1819.45 139.93 L1823.60 141.60 L1827.75 143.31 L1831.91 145.05 L1836.06 146.81 L1840.21 148.60 L1844.37 150.42 L1848.52 152.27 L1852.67 154.15 L1856.83 156.05 L1860.98 157.98 L1865.13 159.93 L1869.29 161.91 L1873.44 163.92 L1877.60 165.95 L1881.75 168.00 L1885.90 170.08 L1890.06 172.17 L1894.21 174.29 L1898.36 176.43 L1902.52 178.58 L1906.67 180.75 L1910.82 182.93 L1914.98 185.13 L1919.13 187.34 L1923.28 189.55 L1927.44 191.78 L1931.59 194.00 L1935.74 196.23 L1939.90 198.45 L1944.05 200.67 L1948.20 202.88 L1952.36 205.07 L1956.51 207.25 L1960.66 209.41 L1964.82 211.54 L1968.97 213.64 L1973.13 215.71 L1977.28 217.73 L1981.43 219.70 L1985.59 221.62 L1989.74 223.48 L1993.89 225.27 L1998.05 226.98 L2002.20 228.61" stroke="#D95319"/>
<path d="M1171.50 660.25 L1175.65 653.34 L1179.81 646.41 L1183.96 639.48 L1188.11 632.55 L1192.27 625.62 L1196.42 618.68 L1200.57 611.76 L1204.73 604.84 L1208.88 597.93 L1213.04 591.03 L1217.19 584.16 L1221.34 577.29 L1225.50 570.45 L1229.65 563.64 L1233.80 556.85 L1237.96 550.08 L1242.11 543.35 L1246.26 536.65 L1250.42 529.99 L1254.57 523.36 L1258.72 516.78 L1262.88 510.23 L1267.03 503.73 L1271.18 497.28 L1275.34 490.87 L1279.49 484.51 L1283.64 478.20 L1287.80 471.95 L1291.95 465.75 L1296.11 459.61 L1300.26 453.53 L1304.41 447.50 L1308.57 441.54 L1312.72 435.64 L1316.87 429.81 L1321.03 424.04 L1325.18 418.33 L1329.33 412.70 L1333.49 407.13 L1337.64 401.64 L1341.79 396.22 L1345.95 390.87 L1350.10 385.59 L1354.25 380.39 L1358.41 375.26 L1362.56 370.21 L1366.71 365.24 L1370.87 360.35 L1375.02 355.53 L1379.17 350.79 L1383.33 346.14 L1387.48 341.56 L1391.64 337.06 L1395.79 332.65 L1399.94 328.32 L1404.10 324.07 L1408.25 319.90 L1412.40 315.82 L1416.56 311.82 L1420.71 307.90 L1424.86 304.06 L1429.02 300.31 L1433.17 296.64 L1437.32 293.06 L1441.48 289.56 L1445.63 286.14 L1449.78 282.81 L1453.94 279.55 L1458.09 276.39 L1462.25 273.30 L1466.40 270.30 L1470.55 267.38 L1474.71 264.54 L1478.86 261.78 L1483.01 259.11 L1487.17 256.52 L1491.32 254.00 L1495.47 251.57 L1499.63 249.21 L1503.78 246.94 L1507.93 244.74 L1512.09 242.62 L1516.24 240.58 L1520.39 238.62 L1524.55 236.73 L1528.70 234.92 L1532.85 233.18 L1537.01 231.51 L1541.16 229.92 L1545.32 228.40 L1549.47 226.96 L1553.62 225.58 L1557.78 224.27 L1561.93 223.04 L1566.08 221.87 L1570.24 220.77 L1574.39 219.74 L1578.54 218.77 L1582.70 217.87 L1586.85 217.03 L1591.00 216.25 L1595.16 215.54 L1599.31 214.89 L1603.46 214.30 L1607.62 213.77 L1611.77 213.30 L1615.92 212.89 L1620.08 212.53 L1624.23 212.23 L1628.38 211.99 L1632.54 211.80 L1636.69 211.66 L1640.85 211.58 L1645.00 211.54 L1649.15 211.56 L1653.31 211.62 L1657.46 211.74 L1661.61 211.90 L1665.77 212.11 L1669.92 212.37 L1674.07 212.67 L1678.23 213.01 L1682.38 213.40 L1686.53 213.83 L1690.69 214.30 L1694.84 214.81 L1698.99 215.36 L1703.15 215.95 L1707.30 216.58 L1711.45 217.24 L1715.61 217.94 L1719.76 218.68 L1723.92 219.45 L1728.07 220.26 L1732.22 221.09 L1736.38 221.96 L1740.53 222.86 L1744.68 223.80 L1748.84 224.76 L1752.99 225.75 L1757.14 226.77 L1761.30 227.82 L1765.45 228.89 L1769.60 229.99 L1773.76 231.12 L1777.91 232.27 L1782.06 233.44 L1786.22 234.64 L1790.37 235.87 L1794.53 237.11 L1798.68 238.38 L1802.83 239.66 L1806.99 240.97 L1811.14 242.30 L1815.29 243.65 L1819.45 245.01 L1823.60 246.40 L1827.75 247.80 L1831.91 249.21 L1836.06 250.65 L1840.21 252.10 L1844.37 253.57 L1848.52 255.05 L1852.67 256.54 L1856.83 258.05 L1860.98 259.57 L1865.13 261.10 L1869.29 262.65 L1873.44 264.20 L1877.60 265.77 L1881.75 267.35 L1885.90 268.93 L1890.06 270.53 L1894.21 272.13 L1898.36 273.75 L1902.52 275.36 L1906.67 276.99 L1910.82 278.62 L1914.98 280.25 L1919.13 281.89 L1923.28 283.54 L1927.44 285.18 L1931.59 286.83 L1935.74 288.48 L1939.90 290.13 L1944.05 291.78 L1948.20 293.42 L1952.36 295.07 L1956.51 296.71 L1960.66 298.35 L1964.82 299.98 L1968.97 301.60 L1973.13 303.22 L1977.28 304.82 L1981.43 306.42 L1985.59 308.00 L1989.74 309.58 L1993.89 311.13 L1998.05 312.67 L2002.20 314.20" stroke="#7E2F8E"/>
<path d="M1171.50 660.25 L1175.65 651.52 L1179.81 642.88 L1183.96 634.31 L1188.11 625.83 L1192.27 617.41 L1196.42 609.07 L1200.57 600.80 L1204.73 592.60 L1208.88 584.46 L1213.04 576.39 L1217.19 568.38 L1221.34 560.43 L1225.50 552.54 L1229.65 544.71 L1233.80 536.95 L1237.96 529.24 L1242.11 521.58 L1246.26 513.99 L1250.42 506.45 L1254.57 498.97 L1258.72 491.55 L1262.88 484.19 L1267.03 476.88 L1271.18 469.64 L1275.34 462.45 L1279.49 455.33 L1283.64 448.26 L1287.80 441.26 L1291.95 434.31 L1296.11 427.44 L1300.26 420.62 L1304.41 413.87 L1308.57 407.19 L1312.72 400.57 L1316.87 394.02 L1321.03 387.54 L1325.18 381.13 L1329.33 374.79 L1333.49 368.53 L1337.64 362.33 L1341.79 356.21 L1345.95 350.17 L1350.10 344.20 L1354.25 338.31 L1358.41 332.50 L1362.56 326.77 L1366.71 321.12 L1370.87 315.55 L1375.02 310.06 L1379.17 304.66 L1383.33 299.34 L1387.48 294.10 L1391.64 288.95 L1395.79 283.89 L1399.94 278.92 L1404.10 274.03 L1408.25 269.23 L1412.40 264.53 L1416.56 259.91 L1420.71 255.38 L1424.86 250.95 L1429.02 246.60 L1433.17 242.35 L1437.32 238.19 L1441.48 234.12 L1445.63 230.15 L1449.78 226.27 L1453.94 222.48 L1458.09 218.79 L1462.25 215.18 L1466.40 211.68 L1470.55 208.26 L1474.71 204.94 L1478.86 201.71 L1483.01 198.57 L1487.17 195.53 L1491.32 192.58 L1495.47 189.72 L1499.63 186.95 L1503.78 184.28 L1507.93 181.69 L1512.09 179.20 L1516.24 176.79 L1520.39 174.47 L1524.55 172.24 L1528.70 170.10 L1532.85 168.05 L1537.01 166.08 L1541.16 164.20 L1545.32 162.40 L1549.47 160.69 L1553.62 159.06 L1557.78 157.51 L1561.93 156.04 L1566.08 154.65 L1570.24 153.34 L1574.39 152.11 L1578.54 150.96 L1582.70 149.88 L1586.85 148.88 L1591.00 147.95 L1595.16 147.09 L1599.31 146.31 L1603.46 145.60 L1607.62 144.95 L1611.77 144.38 L1615.92 143.87 L1620.08 143.43 L1624.23 143.05 L1628.38 142.74 L1632.54 142.49 L1636.69 142.30 L1640.85 142.17 L1645.00 142.10 L1649.15 142.08 L1653.31 142.13 L1657.46 142.23 L1661.61 142.39 L1665.77 142.60 L1669.92 142.86 L1674.07 143.17 L1678.23 143.53 L1682.38 143.95 L1686.53 144.41 L1690.69 144.92 L1694.84 145.47 L1698.99 146.07 L1703.15 146.72 L1707.30 147.40 L1711.45 148.13 L1715.61 148.91 L1719.76 149.72 L1723.92 150.57 L1728.07 151.46 L1732.22 152.39 L1736.38 153.36 L1740.53 154.37 L1744.68 155.41 L1748.84 156.48 L1752.99 157.59 L1757.14 158.74 L1761.30 159.92 L1765.45 161.13 L1769.60 162.37 L1773.76 163.64 L1777.91 164.95 L1782.06 166.29 L1786.22 167.65 L1790.37 169.05 L1794.53 170.47 L1798.68 171.92 L1802.83 173.40 L1806.99 174.91 L1811.14 176.45 L1815.29 178.01 L1819.45 179.60 L1823.60 181.21 L1827.75 182.85 L1831.91 184.51 L1836.06 186.20 L1840.21 187.91 L1844.37 189.64 L1848.52 191.40 L1852.67 193.18 L1856.83 194.97 L1860.98 196.80 L1865.13 198.64 L1869.29 200.50 L1873.44 202.37 L1877.60 204.27 L1881.75 206.18 L1885.90 208.11 L1890.06 210.06 L1894.21 212.02 L1898.36 213.99 L1902.52 215.97 L1906.67 217.96 L1910.82 219.96 L1914.98 221.97 L1919.13 223.99 L1923.28 226.01 L1927.44 228.03 L1931.59 230.05 L1935.74 232.07 L1939.90 234.09 L1944.05 236.10 L1948.20 238.10 L1952.36 240.09 L1956.51 242.06 L1960.66 244.02 L1964.82 245.96 L1968.97 247.87 L1973.13 249.75 L1977.28 251.60 L1981.43 253.41 L1985.59 255.18 L1989.74 256.90 L1993.89 258.58 L1998.05 260.20 L2002.20 261.75" stroke="#77AC30" stroke-dasharray="17.9 17.8"/>
<path d="M1171.50 660.25 L1175.65 652.92 L1179.81 645.55 L1183.96 638.14 L1188.11 630.69 L1192.27 623.22 L1196.42 615.73 L1200.57 608.22 L1204.73 600.70 L1208.88 593.17 L1213.04 585.64 L1217.19 578.12 L1221.34 570.60 L1225.50 563.10 L1229.65 555.60 L1233.80 548.13 L1237.96 540.69 L1242.11 533.27 L1246.26 525.88 L1250.42 518.53 L1254.57 511.21 L1258.72 503.93 L1262.88 496.70 L1267.03 489.52 L1271.18 482.38 L1275.34 475.30 L1279.49 468.28 L1283.64 461.31 L1287.80 454.40 L1291.95 447.55 L1296.11 440.77 L1300.26 434.06 L1304.41 427.41 L1308.57 420.84 L1312.72 414.33 L1316.87 407.91 L1321.03 401.55 L1325.18 395.28 L1329.33 389.08 L1333.49 382.96 L1337.64 376.92 L1341.79 370.97 L1345.95 365.10 L1350.10 359.31 L1354.25 353.61 L1358.41 348.00 L1362.56 342.47 L1366.71 337.03 L1370.87 331.68 L1375.02 326.42 L1379.17 321.25 L1383.33 316.17 L1387.48 311.18 L1391.64 306.28 L1395.79 301.47 L1399.94 296.75 L1404.10 292.13 L1408.25 287.59 L1412.40 283.15 L1416.56 278.80 L1420.71 274.55 L1424.86 270.38 L1429.02 266.31 L1433.17 262.33 L1437.32 258.44 L1441.48 254.64 L1445.63 250.93 L1449.78 247.31 L1453.94 243.79 L1458.09 240.35 L1462.25 237.01 L1466.40 233.75 L1470.55 230.59 L1474.71 227.51 L1478.86 224.52 L1483.01 221.61 L1487.17 218.80 L1491.32 216.07 L1495.47 213.42 L1499.63 210.86 L1503.78 208.39 L1507.93 206.00 L1512.09 203.69 L1516.24 201.47 L1520.39 199.32 L1524.55 197.26 L1528.70 195.28 L1532.85 193.37 L1537.01 191.55 L1541.16 189.80 L1545.32 188.13 L1549.47 186.54 L1553.62 185.02 L1557.78 183.58 L1561.93 182.20 L1566.08 180.91 L1570.24 179.68 L1574.39 178.53 L1578.54 177.44 L1582.70 176.43 L1586.85 175.48 L1591.00 174.60 L1595.16 173.79 L1599.31 173.04 L1603.46 172.36 L1607.62 171.74 L1611.77 171.18 L1615.92 170.69 L1620.08 170.26 L1624.23 169.88 L1628.38 169.57 L1632.54 169.32 L1636.69 169.12 L1640.85 168.98 L1645.00 168.89 L1649.15 168.86 L1653.31 168.89 L1657.46 168.97 L1661.61 169.09 L1665.77 169.27 L1669.92 169.51 L1674.07 169.79 L1678.23 170.11 L1682.38 170.49 L1686.53 170.91 L1690.69 171.38 L1694.84 171.90 L1698.99 172.46 L1703.15 173.06 L1707.30 173.70 L1711.45 174.39 L1715.61 175.12 L1719.76 175.88 L1723.92 176.69 L1728.07 177.54 L1732.22 178.42 L1736.38 179.34 L1740.53 180.30 L1744.68 181.29 L1748.84 182.31 L1752.99 183.37 L1757.14 184.47 L1761.30 185.59 L1765.45 186.75 L1769.60 187.94 L1773.76 189.16 L1777.91 190.40 L1782.06 191.68 L1786.22 192.98 L1790.37 194.32 L1794.53 195.67 L1798.68 197.06 L1802.83 198.46 L1806.99 199.90 L1811.14 201.35 L1815.29 202.83 L1819.45 204.34 L1823.60 205.86 L1827.75 207.40 L1831.91 208.97 L1836.06 210.55 L1840.21 212.16 L1844.37 213.78 L1848.52 215.42 L1852.67 217.08 L1856.83 218.75 L1860.98 220.44 L1865.13 222.14 L1869.29 223.86 L1873.44 225.59 L1877.60 227.34 L1881.75 229.10 L1885.90 230.87 L1890.06 232.65 L1894.21 234.44 L1898.36 236.24 L1902.52 238.05 L1906.67 239.87 L1910.82 241.70 L1914.98 243.53 L1919.13 245.37 L1923.28 247.22 L1927.44 249.07 L1931.59 250.93 L1935.74 252.79 L1939.90 254.65 L1944.05 256.52 L1948.20 258.38 L1952.36 260.25 L1956.51 262.12 L1960.66 263.99 L1964.82 265.85 L1968.97 267.72 L1973.13 269.58 L1977.28 271.44 L1981.43 273.29 L1985.59 275.14 L1989.74 276.98 L1993.89 278.81 L1998.05 280.64 L2002.20 282.46" stroke="#4DBEEE" stroke-dasharray="17.9 17.8"/>
<path d="M1171.50 660.25 L1175.65 653.07 L1179.81 645.88 L1183.96 638.67 L1188.11 631.45 L1192.27 624.23 L1196.42 617.01 L1200.57 609.79 L1204.73 602.58 L1208.88 595.39 L1213.04 588.21 L1217.19 581.05 L1221.34 573.91 L1225.50 566.80 L1229.65 559.71 L1233.80 552.66 L1237.96 545.65 L1242.11 538.67 L1246.26 531.73 L1250.42 524.84 L1254.57 517.99 L1258.72 511.19 L1262.88 504.44 L1267.03 497.74 L1271.18 491.10 L1275.34 484.51 L1279.49 477.98 L1283.64 471.51 L1287.80 465.10 L1291.95 458.75 L1296.11 452.47 L1300.26 446.26 L1304.41 440.11 L1308.57 434.03 L1312.72 428.02 L1316.87 422.08 L1321.03 416.21 L1325.18 410.42 L1329.33 404.70 L1333.49 399.06 L1337.64 393.49 L1341.79 388.00 L1345.95 382.58 L1350.10 377.25 L1354.25 371.99 L1358.41 366.81 L1362.56 361.71 L1366.71 356.69 L1370.87 351.76 L1375.02 346.90 L1379.17 342.12 L1383.33 337.43 L1387.48 332.82 L1391.64 328.28 L1395.79 323.84 L1399.94 319.47 L1404.10 315.19 L1408.25 310.99 L1412.40 306.87 L1416.56 302.83 L1420.71 298.88 L1424.86 295.01 L1429.02 291.22 L1433.17 287.51 L1437.32 283.89 L1441.48 280.35 L1445.63 276.89 L1449.78 273.51 L1453.94 270.21 L1458.09 266.99 L1462.25 263.86 L1466.40 260.80 L1470.55 257.83 L1474.71 254.93 L1478.86 252.12 L1483.01 249.38 L1487.17 246.73 L1491.32 244.15 L1495.47 241.65 L1499.63 239.22 L1503.78 236.88 L1507.93 234.61 L1512.09 232.41 L1516.24 230.29 L1520.39 228.25 L1524.55 226.28 L1528.70 224.39 L1532.85 222.57 L1537.01 220.82 L1541.16 219.14 L1545.32 217.54 L1549.47 216.01 L1553.62 214.54 L1557.78 213.15 L1561.93 211.83 L1566.08 210.57 L1570.24 209.38 L1574.39 208.26 L1578.54 207.21 L1582.70 206.22 L1586.85 205.30 L1591.00 204.44 L1595.16 203.65 L1599.31 202.92 L1603.46 202.25 L1607.62 201.64 L1611.77 201.10 L1615.92 200.61 L1620.08 200.19 L1624.23 199.82 L1628.38 199.51 L1632.54 199.25 L1636.69 199.06 L1640.85 198.92 L1645.00 198.83 L1649.15 198.80 L1653.31 198.82 L1657.46 198.89 L1661.61 199.02 L1665.77 199.19 L1669.92 199.41 L1674.07 199.69 L1678.23 200.01 L1682.38 200.38 L1686.53 200.79 L1690.69 201.25 L1694.84 201.76 L1698.99 202.31 L1703.15 202.90 L1707.30 203.53 L1711.45 204.21 L1715.61 204.92 L1719.76 205.68 L1723.92 206.47 L1728.07 207.30 L1732.22 208.17 L1736.38 209.07 L1740.53 210.01 L1744.68 210.98 L1748.84 211.99 L1752.99 213.02 L1757.14 214.09 L1761.30 215.19 L1765.45 216.32 L1769.60 217.48 L1773.76 218.66 L1777.91 219.87 L1782.06 221.11 L1786.22 222.38 L1790.37 223.66 L1794.53 224.97 L1798.68 226.31 L1802.83 227.66 L1806.99 229.04 L1811.14 230.44 L1815.29 231.85 L1819.45 233.29 L1823.60 234.74 L1827.75 236.21 L1831.91 237.69 L1836.06 239.19 L1840.21 240.71 L1844.37 242.24 L1848.52 243.78 L1852.67 245.34 L1856.83 246.91 L1860.98 248.48 L1865.13 250.07 L1869.29 251.67 L1873.44 253.28 L1877.60 254.90 L1881.75 256.53 L1885.90 258.16 L1890.06 259.81 L1894.21 261.46 L1898.36 263.11 L1902.52 264.78 L1906.67 266.45 L1910.82 268.12 L1914.98 269.80 L1919.13 271.49 L1923.28 273.18 L1927.44 274.88 L1931.59 276.59 L1935.74 278.29 L1939.90 280.01 L1944.05 281.73 L1948.20 283.45 L1952.36 285.19 L1956.51 286.92 L1960.66 288.67 L1964.82 290.42 L1968.97 292.18 L1973.13 293.95 L1977.28 295.72 L1981.43 297.51 L1985.59 299.30 L1989.74 301.11 L1993.89 302.93 L1998.05 304.76 L2002.20 306.61" stroke="#A2142F" stroke-dasharray="17.9 17.8"/>
<path d="M1171.50 660.25 L1175.65 653.45 L1179.81 646.67 L1183.96 639.93 L1188.11 633.22 L1192.27 626.54 L1196.42 619.90 L1200.57 613.29 L1204.73 606.71 L1208.88 600.17 L1213.04 593.67 L1217.19 587.20 L1221.34 580.77 L1225.50 574.38 L1229.65 568.04 L1233.80 561.73 L1237.96 555.46 L1242.11 549.24 L1246.26 543.06 L1250.42 536.93 L1254.57 530.84 L1258.72 524.80 L1262.88 518.81 L1267.03 512.87 L1271.18 506.97 L1275.34 501.13 L1279.49 495.34 L1283.64 489.60 L1287.80 483.91 L1291.95 478.28 L1296.11 472.71 L1300.26 467.19 L1304.41 461.73 L1308.57 456.33 L1312.72 450.99 L1316.87 445.71 L1321.03 440.48 L1325.18 435.32 L1329.33 430.23 L1333.49 425.19 L1337.64 420.22 L1341.79 415.32 L1345.95 410.48 L1350.10 405.70 L1354.25 401.00 L1358.41 396.36 L1362.56 391.78 L1366.71 387.28 L1370.87 382.85 L1375.02 378.48 L1379.17 374.19 L1383.33 369.96 L1387.48 365.81 L1391.64 361.73 L1395.79 357.72 L1399.94 353.78 L1404.10 349.91 L1408.25 346.12 L1412.40 342.40 L1416.56 338.75 L1420.71 335.18 L1424.86 331.68 L1429.02 328.25 L1433.17 324.90 L1437.32 321.62 L1441.48 318.41 L1445.63 315.28 L1449.78 312.22 L1453.94 309.23 L1458.09 306.32 L1462.25 303.48 L1466.40 300.72 L1470.55 298.03 L1474.71 295.41 L1478.86 292.86 L1483.01 290.39 L1487.17 287.99 L1491.32 285.66 L1495.47 283.40 L1499.63 281.21 L1503.78 279.09 L1507.93 277.05 L1512.09 275.07 L1516.24 273.17 L1520.39 271.33 L1524.55 269.56 L1528.70 267.86 L1532.85 266.23 L1537.01 264.66 L1541.16 263.16 L1545.32 261.73 L1549.47 260.36 L1553.62 259.06 L1557.78 257.82 L1561.93 256.64 L1566.08 255.53 L1570.24 254.47 L1574.39 253.48 L1578.54 252.55 L1582.70 251.68 L1586.85 250.87 L1591.00 250.12 L1595.16 249.42 L1599.31 248.78 L1603.46 248.20 L1607.62 247.67 L1611.77 247.20 L1615.92 246.78 L1620.08 246.41 L1624.23 246.10 L1628.38 245.84 L1632.54 245.63 L1636.69 245.46 L1640.85 245.35 L1645.00 245.28 L1649.15 245.26 L1653.31 245.29 L1657.46 245.36 L1661.61 245.48 L1665.77 245.64 L1669.92 245.85 L1674.07 246.09 L1678.23 246.38 L1682.38 246.71 L1686.53 247.08 L1690.69 247.49 L1694.84 247.93 L1698.99 248.41 L1703.15 248.93 L1707.30 249.49 L1711.45 250.08 L1715.61 250.71 L1719.76 251.36 L1723.92 252.06 L1728.07 252.78 L1732.22 253.53 L1736.38 254.32 L1740.53 255.14 L1744.68 255.98 L1748.84 256.85 L1752.99 257.76 L1757.14 258.68 L1761.30 259.64 L1765.45 260.62 L1769.60 261.63 L1773.76 262.66 L1777.91 263.71 L1782.06 264.79 L1786.22 265.89 L1790.37 267.02 L1794.53 268.16 L1798.68 269.33 L1802.83 270.51 L1806.99 271.72 L1811.14 272.95 L1815.29 274.19 L1819.45 275.46 L1823.60 276.74 L1827.75 278.04 L1831.91 279.36 L1836.06 280.69 L1840.21 282.04 L1844.37 283.40 L1848.52 284.78 L1852.67 286.18 L1856.83 287.58 L1860.98 289.01 L1865.13 290.44 L1869.29 291.89 L1873.44 293.35 L1877.60 294.82 L1881.75 296.31 L1885.90 297.80 L1890.06 299.31 L1894.21 300.82 L1898.36 302.35 L1902.52 303.88 L1906.67 305.42 L1910.82 306.97 L1914.98 308.53 L1919.13 310.09 L1923.28 311.66 L1927.44 313.24 L1931.59 314.82 L1935.74 316.41 L1939.90 318.00 L1944.05 319.59 L1948.20 321.19 L1952.36 322.79 L1956.51 324.39 L1960.66 325.99 L1964.82 327.59 L1968.97 329.19 L1973.13 330.78 L1977.28 332.37 L1981.43 333.96 L1985.59 335.55 L1989.74 337.12 L1993.89 338.69 L1998.05 340.25 L2002.20 341.80" stroke="#0072BD" stroke-dasharray="17.9 17.8"/>
<path d="M1174.16 660.25 L1188.11 628.82 L1192.27 621.00 L1196.42 613.20 L1200.57 605.41 L1204.73 597.65 L1208.88 589.90 L1213.04 582.18 L1217.19 574.47 L1221.34 566.79 L1225.50 559.14 L1229.65 551.51 L1233.80 543.92 L1237.96 536.35 L1242.11 528.81 L1246.26 521.31 L1250.42 513.84 L1254.57 506.41 L1258.72 499.02 L1262.88 491.66 L1267.03 484.35 L1271.18 477.09 L1275.34 469.87 L1279.49 462.70 L1283.64 455.58 L1287.80 448.51 L1291.95 441.49 L1296.11 434.53 L1300.26 427.62 L1304.41 420.77 L1308.57 413.99 L1312.72 407.26 L1316.87 400.60 L1321.03 394.01 L1325.18 387.48 L1329.33 381.02 L1333.49 374.63 L1337.64 368.32 L1341.79 362.07 L1345.95 355.90 L1350.10 349.81 L1354.25 343.80 L1358.41 337.86 L1362.56 332.01 L1366.71 326.23 L1370.87 320.54 L1375.02 314.93 L1379.17 309.41 L1383.33 303.97 L1387.48 298.62 L1391.64 293.36 L1395.79 288.19 L1399.94 283.10 L1404.10 278.11 L1408.25 273.20 L1412.40 268.39 L1416.56 263.67 L1420.71 259.05 L1424.86 254.51 L1429.02 250.07 L1433.17 245.72 L1437.32 241.47 L1441.48 237.31 L1445.63 233.25 L1449.78 229.28 L1453.94 225.41 L1458.09 221.63 L1462.25 217.95 L1466.40 214.36 L1470.55 210.87 L1474.71 207.47 L1478.86 204.16 L1483.01 200.95 L1487.17 197.84 L1491.32 194.81 L1495.47 191.88 L1499.63 189.05 L1503.78 186.30 L1507.93 183.65 L1512.09 181.08 L1516.24 178.61 L1520.39 176.23 L1524.55 173.94 L1528.70 171.73 L1532.85 169.62 L1537.01 167.59 L1541.16 165.65 L1545.32 163.79 L1549.47 162.02 L1553.62 160.33 L1557.78 158.72 L1561.93 157.19 L1566.08 155.75 L1570.24 154.38 L1574.39 153.10 L1578.54 151.89 L1582.70 150.76 L1586.85 149.70 L1591.00 148.72 L1595.16 147.81 L1599.31 146.98 L1603.46 146.21 L1607.62 145.52 L1611.77 144.89 L1615.92 144.34 L1620.08 143.85 L1624.23 143.42 L1628.38 143.06 L1632.54 142.77 L1636.69 142.53 L1640.85 142.36 L1645.00 142.25 L1649.15 142.19 L1653.31 142.20 L1657.46 142.26 L1661.61 142.38 L1665.77 142.55 L1669.92 142.77 L1674.07 143.05 L1678.23 143.38 L1682.38 143.75 L1686.53 144.18 L1690.69 144.66 L1694.84 145.18 L1698.99 145.75 L1703.15 146.37 L1707.30 147.03 L1711.45 147.73 L1715.61 148.48 L1719.76 149.27 L1723.92 150.09 L1728.07 150.96 L1732.22 151.87 L1736.38 152.82 L1740.53 153.80 L1744.68 154.82 L1748.84 155.88 L1752.99 156.97 L1757.14 158.10 L1761.30 159.26 L1765.45 160.45 L1769.60 161.68 L1773.76 162.94 L1777.91 164.23 L1782.06 165.55 L1786.22 166.90 L1790.37 168.28 L1794.53 169.69 L1798.68 171.13 L1802.83 172.60 L1806.99 174.09 L1811.14 175.61 L1815.29 177.16 L1819.45 178.73 L1823.60 180.33 L1827.75 181.95 L1831.91 183.59 L1836.06 185.26 L1840.21 186.96 L1844.37 188.67 L1848.52 190.41 L1852.67 192.16 L1856.83 193.94 L1860.98 195.74 L1865.13 197.56 L1869.29 199.39 L1873.44 201.25 L1877.60 203.12 L1881.75 205.00 L1885.90 206.90 L1890.06 208.82 L1894.21 210.75 L1898.36 212.69 L1902.52 214.64 L1906.67 216.61 L1910.82 218.58 L1914.98 220.56 L1919.13 222.54 L1923.28 224.53 L1927.44 226.53 L1931.59 228.52 L1935.74 230.52 L1939.90 232.51 L1944.05 234.50 L1948.20 236.48 L1952.36 238.45 L1956.51 240.41 L1960.66 242.36 L1964.82 244.29 L1968.97 246.20 L1973.13 248.09 L1977.28 249.96 L1981.43 251.79 L1985.59 253.60 L1989.74 255.37 L1993.89 257.09 L1998.05 258.78 L2002.20 260.41" stroke="#EDB120"/>
</g>
<g class="tk" text-anchor="end">
<text transform="translate(1157.0 673.3) scale(0.958 1)">0</text>
<text transform="translate(1157.0 601.2) scale(0.958 1)">0.05</text>
<text transform="translate(1157.0 529.2) scale(0.958 1)">0.1</text>
<text transform="translate(1157.0 457.1) scale(0.958 1)">0.15</text>
<text transform="translate(1157.0 385.1) scale(0.958 1)">0.2</text>
<text transform="translate(1157.0 313.0) scale(0.958 1)">0.25</text>
<text transform="translate(1157.0 240.9) scale(0.958 1)">0.3</text>
<text transform="translate(1157.0 168.9) scale(0.958 1)">0.35</text>
<text transform="translate(1157.0 96.8) scale(0.958 1)">0.4</text>
<text transform="translate(1157.0 24.8) scale(0.958 1)">0.45</text>
</g>
<g class="tk" text-anchor="middle">
<text transform="translate(1163.8 698.2) scale(0.958 1)">0</text>
<text transform="translate(1330.0 698.2) scale(0.958 1)">0.2</text>
<text transform="translate(1496.2 698.2) scale(0.958 1)">0.4</text>
<text transform="translate(1662.4 698.2) scale(0.958 1)">0.6</text>
<text transform="translate(1828.6 698.2) scale(0.958 1)">0.8</text>
<text transform="translate(1994.8 698.2) scale(0.958 1)">1</text>
</g>
<text class="ax" text-anchor="middle" letter-spacing="0.3" x="1578.8" y="745.0">R / h</text>
<g transform="translate(1080.8 502.5) rotate(-90)">
<text class="ax" style="font-size:50.8px" transform="translate(1.2 0) scale(1.028 1)">(E/<tspan class="it">p</tspan>)</text>
<text class="sup" letter-spacing="1.3" x="113" y="-23">0.5</text>
<text class="ax" style="font-size:50.8px" transform="translate(189.2 0) scale(1.024 1)">(G/<tspan class="it">p</tspan>)</text>
<text class="sup" letter-spacing="1.3" x="303" y="-23">0.5</text>
</g>
</g>
<text class="pl" x="195.1" y="51.8">(a)</text>
<text class="pl" x="1218.5" y="52.8">(b)</text>
<g>
<rect x="682.3" y="323.5" width="256.1" height="306.9" fill="#fff" stroke="#d0d0d0" stroke-width="2.4"/>
<path d="M694.0 347.3h111" stroke="#0072BD" stroke-width="5.2" fill="none"/>
<text class="it" font-size="35" style="stroke-width:0px" transform="translate(814.0 352.8) scale(1.26 1)">u</text>
<text class="it" font-size="23.3" style="stroke-width:0.15px" transform="translate(836.9 363.5) scale(1.29 1)">ε</text>
<text font-size="28" style="stroke-width:0.1px" transform="translate(856.5 358.5) scale(1.27 1)">=</text>
<text class="lg" transform="translate(874.9 359.0) scale(0.95 1)">1.70</text>
<path d="M694.0 384.4h111" stroke="#D95319" stroke-width="5.2" fill="none"/>
<text class="it" font-size="35" style="stroke-width:0px" transform="translate(814.0 383.7) scale(1.26 1)">u</text>
<text class="it" font-size="23.3" style="stroke-width:0.15px" transform="translate(836.9 395.0) scale(1.29 1)">ε</text>
<text font-size="28" style="stroke-width:0.1px" transform="translate(856.5 395.6) scale(1.27 1)">=</text>
<text class="lg" transform="translate(874.9 396.1) scale(0.95 1)">1.40</text>
<path d="M694.0 421.4h111" stroke="#EDB120" stroke-width="5.2" fill="none"/>
<text class="it" font-size="35" style="stroke-width:0px" transform="translate(814.0 420.7) scale(1.26 1)">u</text>
<text class="it" font-size="23.3" style="stroke-width:0.15px" transform="translate(836.9 431.5) scale(1.29 1)">ε</text>
<text font-size="28" style="stroke-width:0.1px" transform="translate(856.5 432.6) scale(1.27 1)">=</text>
<text class="lg" transform="translate(874.9 433.1) scale(0.95 1)">1.20</text>
<path d="M694.0 458.5h111" stroke="#7E2F8E" stroke-width="5.2" fill="none"/>
<text class="it" font-size="35" style="stroke-width:0px" transform="translate(814.0 459.3) scale(1.26 1)">u</text>
<text class="it" font-size="23.3" style="stroke-width:0.15px" transform="translate(836.9 469.6) scale(1.29 1)">ε</text>
<text font-size="28" style="stroke-width:0.1px" transform="translate(856.5 469.7) scale(1.27 1)">=</text>
<text class="lg" transform="translate(874.9 470.2) scale(0.95 1)">0.90</text>
<path d="M694.0 495.6h111" stroke="#77AC30" stroke-width="5.2" fill="none" stroke-dasharray="17.9 17.8"/>
<text class="it" font-size="35" style="stroke-width:0px" transform="translate(814.0 501.3) scale(1.26 1)">u</text>
<text font-size="43" style="stroke-width:0px" x="834.9" y="509.2">′</text>
<text class="it" font-size="23.3" style="stroke-width:0.15px" transform="translate(836.9 511.5) scale(1.29 1)">ε</text>
<text font-size="28" style="stroke-width:0.1px" transform="translate(856.5 506.8) scale(1.27 1)">=</text>
<text class="lg" transform="translate(874.9 507.3) scale(0.95 1)">1.20</text>
<path d="M694.0 532.6h111" stroke="#4DBEEE" stroke-width="5.2" fill="none" stroke-dasharray="17.9 17.8"/>
<text class="it" font-size="35" style="stroke-width:0px" transform="translate(814.0 538.4) scale(1.26 1)">u</text>
<text font-size="43" style="stroke-width:0px" x="834.9" y="546.2">′</text>
<text class="it" font-size="23.3" style="stroke-width:0.15px" transform="translate(836.9 549.0) scale(1.29 1)">ε</text>
<text font-size="28" style="stroke-width:0.1px" transform="translate(856.5 543.9) scale(1.27 1)">=</text>
<text class="lg" transform="translate(874.9 544.4) scale(0.95 1)">1.08</text>
<path d="M694.0 569.7h111" stroke="#A2142F" stroke-width="5.2" fill="none" stroke-dasharray="17.9 17.8"/>
<text class="it" font-size="35" style="stroke-width:0px" transform="translate(812.4 571.8) scale(1.26 1)">u</text>
<text font-size="43" style="stroke-width:0px" x="833.3" y="579.7">′</text>
<text class="it" font-size="23.3" style="stroke-width:0.15px" transform="translate(835.3 581.5) scale(1.29 1)">ε</text>
<text font-size="28" style="stroke-width:0.1px" transform="translate(856.5 580.9) scale(1.27 1)">=</text>
<text class="lg" transform="translate(874.9 581.4) scale(0.95 1)">0.95</text>
<path d="M694.0 606.8h111" stroke="#0072BD" stroke-width="5.2" fill="none" stroke-dasharray="17.9 17.8"/>
<text class="it" font-size="35" style="stroke-width:0px" transform="translate(814.0 612.6) scale(1.26 1)">u</text>
<text font-size="43" style="stroke-width:0px" x="834.9" y="620.5">′</text>
<text class="it" font-size="23.3" style="stroke-width:0.15px" transform="translate(836.9 622.8) scale(1.29 1)">ε</text>
<text font-size="28" style="stroke-width:0.1px" transform="translate(856.5 618.0) scale(1.27 1)">=</text>
<text class="lg" transform="translate(874.9 618.5) scale(0.95 1)">0.77</text>
</g>
<g>
<rect x="1724.0" y="346.5" width="256.1" height="306.9" fill="#fff" stroke="#d0d0d0" stroke-width="2.4"/>
<path d="M1735.7 370.3h111" stroke="#0072BD" stroke-width="5.2" fill="none"/>
<text class="it" font-size="35" style="stroke-width:0px" transform="translate(1855.7 375.8) scale(1.26 1)">u</text>
<text class="it" font-size="23.3" style="stroke-width:0.15px" transform="translate(1878.6 386.5) scale(1.29 1)">ε</text>
<text font-size="28" style="stroke-width:0.1px" transform="translate(1898.2 381.5) scale(1.27 1)">=</text>
<text class="lg" transform="translate(1916.6 382.0) scale(0.95 1)">1.70</text>
<path d="M1735.7 407.4h111" stroke="#D95319" stroke-width="5.2" fill="none"/>
<text class="it" font-size="35" style="stroke-width:0px" transform="translate(1855.7 406.7) scale(1.26 1)">u</text>
<text class="it" font-size="23.3" style="stroke-width:0.15px" transform="translate(1878.6 418.0) scale(1.29 1)">ε</text>
<text font-size="28" style="stroke-width:0.1px" transform="translate(1898.2 418.6) scale(1.27 1)">=</text>
<text class="lg" transform="translate(1916.6 419.1) scale(0.95 1)">1.40</text>
<path d="M1735.7 444.4h111" stroke="#EDB120" stroke-width="5.2" fill="none"/>
<text class="it" font-size="35" style="stroke-width:0px" transform="translate(1855.7 443.7) scale(1.26 1)">u</text>
<text class="it" font-size="23.3" style="stroke-width:0.15px" transform="translate(1878.6 454.5) scale(1.29 1)">ε</text>
<text font-size="28" style="stroke-width:0.1px" transform="translate(1898.2 455.6) scale(1.27 1)">=</text>
<text class="lg" transform="translate(1916.6 456.1) scale(0.95 1)">1.20</text>
<path d="M1735.7 481.5h111" stroke="#7E2F8E" stroke-width="5.2" fill="none"/>
<text class="it" font-size="35" style="stroke-width:0px" transform="translate(1855.7 482.3) scale(1.26 1)">u</text>
<text class="it" font-size="23.3" style="stroke-width:0.15px" transform="translate(1878.6 492.6) scale(1.29 1)">ε</text>
<text font-size="28" style="stroke-width:0.1px" transform="translate(1898.2 492.7) scale(1.27 1)">=</text>
<text class="lg" transform="translate(1916.6 493.2) scale(0.95 1)">0.90</text>
<path d="M1735.7 518.6h111" stroke="#77AC30" stroke-width="5.2" fill="none" stroke-dasharray="17.9 17.8"/>
<text class="it" font-size="35" style="stroke-width:0px" transform="translate(1855.7 524.3) scale(1.26 1)">u</text>
<text font-size="43" style="stroke-width:0px" x="1876.6" y="532.2">′</text>
<text class="it" font-size="23.3" style="stroke-width:0.15px" transform="translate(1878.6 534.5) scale(1.29 1)">ε</text>
<text font-size="28" style="stroke-width:0.1px" transform="translate(1898.2 529.8) scale(1.27 1)">=</text>
<text class="lg" transform="translate(1916.6 530.3) scale(0.95 1)">1.20</text>
<path d="M1735.7 555.6h111" stroke="#4DBEEE" stroke-width="5.2" fill="none" stroke-dasharray="17.9 17.8"/>
<text class="it" font-size="35" style="stroke-width:0px" transform="translate(1855.7 561.4) scale(1.26 1)">u</text>
<text font-size="43" style="stroke-width:0px" x="1876.6" y="569.2">′</text>
<text class="it" font-size="23.3" style="stroke-width:0.15px" transform="translate(1878.6 572.0) scale(1.29 1)">ε</text>
<text font-size="28" style="stroke-width:0.1px" transform="translate(1898.2 566.9) scale(1.27 1)">=</text>
<text class="lg" transform="translate(1916.6 567.4) scale(0.95 1)">1.08</text>
<path d="M1735.7 592.7h111" stroke="#A2142F" stroke-width="5.2" fill="none" stroke-dasharray="17.9 17.8"/>
<text class="it" font-size="35" style="stroke-width:0px" transform="translate(1854.1 594.8) scale(1.26 1)">u</text>
<text font-size="43" style="stroke-width:0px" x="1875.0" y="602.7">′</text>
<text class="it" font-size="23.3" style="stroke-width:0.15px" transform="translate(1877.0 604.5) scale(1.29 1)">ε</text>
<text font-size="28" style="stroke-width:0.1px" transform="translate(1898.2 603.9) scale(1.27 1)">=</text>
<text class="lg" transform="translate(1916.6 604.4) scale(0.95 1)">0.95</text>
<path d="M1735.7 629.8h111" stroke="#0072BD" stroke-width="5.2" fill="none" stroke-dasharray="17.9 17.8"/>
<text class="it" font-size="35" style="stroke-width:0px" transform="translate(1855.7 635.6) scale(1.26 1)">u</text>
<text font-size="43" style="stroke-width:0px" x="1876.6" y="643.5">′</text>
<text class="it" font-size="23.3" style="stroke-width:0.15px" transform="translate(1878.6 645.8) scale(1.29 1)">ε</text>
<text font-size="28" style="stroke-width:0.1px" transform="translate(1898.2 641.0) scale(1.27 1)">=</text>
<text class="lg" transform="translate(1916.6 641.5) scale(0.95 1)">0.77</text>
</g>
</svg></body></html>
